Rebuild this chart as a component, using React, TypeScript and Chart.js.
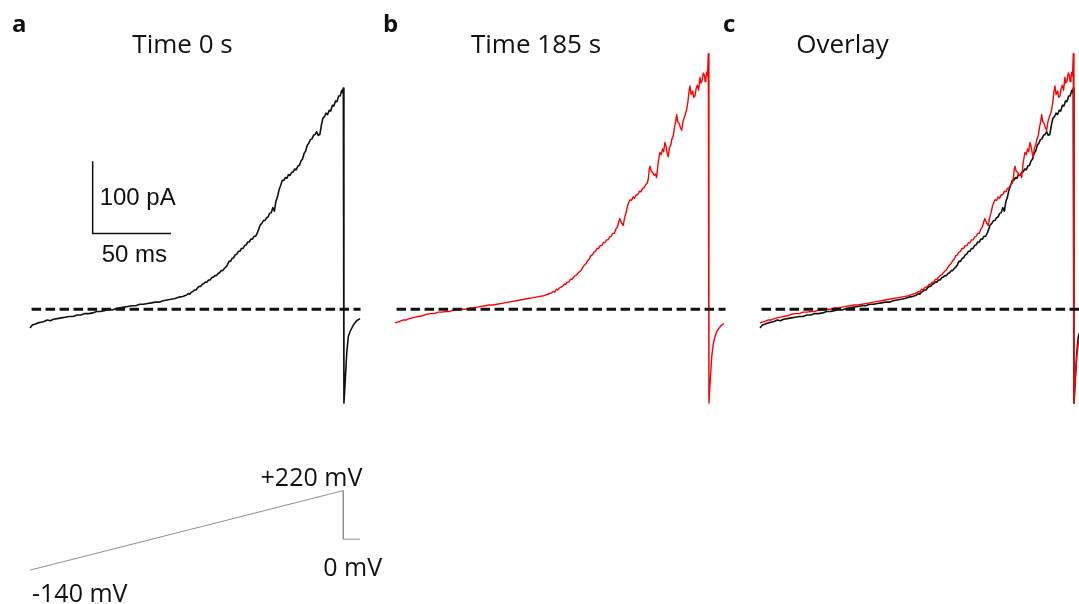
import React, { useEffect, useRef } from 'react';
import { Chart, registerables } from 'chart.js';

Chart.register(...registerables);

// ---------- data: [time in ms, current in pA] ----------
const PANEL_LETTERS = ['a', 'b', 'c'];
const PANEL_TITLES = ['Time 0 s', 'Time 185 s', 'Overlay'];

const TRACE_A_0S: [number, number][] = [
  [0, -26], [1.5, -22], [3, -21], [5, -19], [7, -18], [9, -17], [11, -15], [13, -16], [15, -14], [17.5, -13],
  [20, -12], [22.5, -11], [25, -10], [27.5, -10], [30, -8], [32.5, -8], [35, -6], [37.5, -6], [40, -5], [42.5, -3],
  [45, -3], [47.5, -2], [50, 0], [52.5, -1], [55, 1], [57.5, 2], [60, 3], [62.5, 4], [65, 5], [67.5, 5],
  [70, 7], [72.5, 7], [75, 8], [77.5, 9], [80, 10], [82.5, 10], [85, 12], [87.5, 13], [90, 14], [92.5, 15],
  [95, 17], [97.5, 18],
  [100, 20], [101, 22], [102, 21], [103, 24], [104, 25], [105, 27], [106, 27], [107, 30], [108, 32], [109, 32],
  [110, 35], [111, 36], [112, 38], [113, 38], [114, 41], [115, 41], [116, 44], [117, 45], [118, 47], [119, 47],
  [120, 50], [121, 51], [122, 54], [123, 54], [124, 57], [125, 59], [126, 62], [127, 67], [128, 67], [129, 71],
  [130, 72], [131, 76], [132, 77], [133, 81], [134, 81], [135, 85], [136, 85], [137, 89], [138, 90], [139, 94],
  [140, 94], [141, 98], [142, 98], [143, 102], [144, 102], [145, 106], [146, 112], [147, 118], [148, 120], [149, 124],
  [150, 124], [151, 128], [152, 129], [153, 134], [154, 135], [155, 142], [156, 137], [157, 151], [158, 157], [159, 167],
  [160, 173], [161, 180], [162, 180], [163, 184], [164, 183], [165, 188], [166, 187], [167, 191], [168, 192], [169, 196],
  [170, 195], [171, 200], [172, 201], [173, 207], [174, 210], [175, 218], [176, 221], [177, 229], [178, 232], [179, 237],
  [180, 238], [181, 243], [182, 244], [183, 248], [184, 243], [185, 244], [186, 257], [187, 267], [188, 269], [189, 274],
  [190, 272], [191, 278], [192, 277], [193, 285], [194, 284], [195, 291], [196, 290], [197, 298], [198, 298], [199, 306],
  [199.5, 303], [200, 309],
  [200.4, -131], [201.1, -105], [202.2, -61], [203.2, -38], [204.3, -31], [206.4, -22], [208.5, -16], [210.7, -13],
];

const TRACE_B_185S: [number, number][] = [
  [0, -19], [1.5, -18], [3, -17], [5, -15], [7, -15], [9, -13], [11, -12], [13, -11], [15, -10], [17.5, -9],
  [20, -7], [22.5, -6], [25, -6], [27.5, -4], [30, -4], [32.5, -3], [35, -3], [37.5, -1], [40, -1], [42.5, 0],
  [45, 0], [47.5, 2], [50, 2], [52.5, 3], [55, 4], [57.5, 5], [60, 6], [62.5, 6], [65, 7], [67.5, 8],
  [70, 9], [72.5, 10], [75, 11], [77.5, 12], [80, 13], [82.5, 14], [85, 15], [87.5, 16], [90, 17], [92.5, 18],
  [95, 19], [97.5, 21],
  [100, 23], [101, 25], [102, 24], [103, 28], [104, 27], [105, 30], [106, 31], [107, 32], [108, 35], [109, 35],
  [110, 38], [111, 38], [112, 42], [113, 42], [114, 45], [115, 47], [116, 48], [117, 51], [118, 53], [119, 55],
  [120, 59], [121, 62], [122, 64], [123, 68], [124, 70], [125, 75], [126, 76], [127, 80], [128, 81], [129, 85],
  [130, 85], [131, 89], [132, 89], [133, 93], [134, 93], [135, 97], [136, 97], [137, 101], [138, 102], [139, 106],
  [140, 106], [141, 112], [142, 115], [143, 124], [143.5, 127], [144.5, 121], [145.7, 117], [146.5, 127], [147.5, 135], [148.5, 145],
  [150, 153], [151, 152], [152, 157], [153, 155], [154, 160], [155, 160], [156, 165], [157, 164], [158, 169], [159, 170],
  [160, 174], [161, 176], [161.7, 182], [162.3, 196], [162.8, 200], [163.5, 193], [164.5, 191], [165.5, 187], [166.3, 189], [167, 184],
  [168, 205], [169.1, 219], [170, 216], [170.8, 224], [171.5, 220], [172.3, 233], [173, 228], [173.8, 218], [174.4, 213], [175.2, 226],
  [176, 229], [176.8, 238], [177.6, 242], [178.5, 255], [179.2, 262], [179.8, 272], [180.5, 262], [181.5, 259], [182.2, 254], [183, 250],
  [183.8, 262], [184.5, 267], [185.3, 272], [186.2, 279], [187, 290], [187.6, 303], [188.3, 312], [189, 300], [190, 305], [190.7, 296],
  [191.5, 298], [192.2, 308], [193, 313], [193.8, 306], [194.7, 324], [195.3, 316], [196, 319], [196.8, 330], [197.5, 327], [198, 318],
  [198.5, 323], [199, 331], [199.5, 326], [200, 357],
  [200.4, -131], [201.2, -100], [202.2, -66], [203.2, -48], [204.3, -38], [205.5, -31], [207, -26], [208.5, -22], [210, -20],
];

const BASELINE_MS = [1, 211];
const BASELINE_PA = [0, 0];

const SCALE_BAR_MS = [40, 40, 90];
const SCALE_BAR_PA = [206, 106, 106];
const SCALE_BAR_LABELS = ['100 pA', '50 ms'];

const RAMP_MS = [0, 200, 200, 210.6];
const RAMP_MV = [-140, 220, 0, 0];
const RAMP_LABELS = ['+220 mV', '0 mV', '-140 mV'];

// ---------- layout constants ----------
const W = 1079;
const H = 604;
const PX_PER_MS = 313.3 / 200;
const PANEL_ORIGINS = [30, 395, 760];
const PX_PER_PA = 0.716;
const ZERO_PA_Y = 309.3;
const PX_PER_MV = 0.2209;
const ZERO_MV_Y = 539.2;

const pts = (xs: number[], ys: number[]) => xs.map((x, i) => ({ x, y: ys[i] }));
const pairPts = (rows: [number, number][]) => rows.map(([x, y]) => ({ x, y }));

const BLACK = '#111111';
const RED = 'rgb(255,0,0)';
const GREY = '#8f8f8f';

function line(data: any, color: string, width: number, xAxisID: string, yAxisID: string, order: number, dash?: number[]) {
  return {
    data,
    borderColor: color,
    backgroundColor: color,
    borderWidth: width,
    borderDash: dash || [],
    borderJoinStyle: 'round',
    borderCapStyle: 'butt',
    pointRadius: 0,
    tension: 0,
    fill: false,
    xAxisID,
    yAxisID,
    order,
  };
}

const textPlugin = {
  id: 'figText',
  afterDraw(chart: any) {
    const ctx = chart.ctx;
    const s = chart.scales;
    const xs = [s.xa, s.xb, s.xc];
    const yI = s.yI;
    const yV = s.yV;
    ctx.save();
    ctx.fillStyle = '#111';
    ctx.textBaseline = 'alphabetic';
    const put = (t: string, x: number, y: number, font: string, align: string) => {
      ctx.font = font;
      ctx.textAlign = align;
      ctx.fillText(t, x, y);
    };
    const letterDx = [-18, -12, -37];
    const titleDx = [152.5, 141, 82.5];
    for (let i = 0; i < 3; i++) {
      const o = xs[i].getPixelForValue(0);
      put(PANEL_LETTERS[i], o + letterDx[i], 32, 'bold 24px "Open Sans"', 'left');
      put(PANEL_TITLES[i], o + titleDx[i], 53, '26px "Open Sans"', 'center');
    }
    // scale bar labels
    const bx = s.xa.getPixelForValue(SCALE_BAR_MS[0]);
    const bTop = yI.getPixelForValue(SCALE_BAR_PA[0]);
    const bBot = yI.getPixelForValue(SCALE_BAR_PA[1]);
    put(SCALE_BAR_LABELS[0], bx + 7, bTop + 43, '24px "Liberation Sans"', 'left');
    put(SCALE_BAR_LABELS[1], bx + 9, bBot + 29, '24px "Liberation Sans"', 'left');
    // voltage protocol labels
    const pEnd = s.xa.getPixelForValue(RAMP_MS[1]);
    const pStart = s.xa.getPixelForValue(RAMP_MS[0]);
    put(RAMP_LABELS[0], pEnd + 19, yV.getPixelForValue(RAMP_MV[1]) - 5, '25px "Open Sans"', 'right');
    put(RAMP_LABELS[1], pEnd - 20, yV.getPixelForValue(RAMP_MV[2]) + 37, '25px "Open Sans"', 'left');
    put(RAMP_LABELS[2], pStart + 2, yV.getPixelForValue(RAMP_MV[0]) + 32, '25px "Open Sans"', 'left');
    ctx.restore();
  },
};

export default function App() {
  const ref = useRef<HTMLCanvasElement | null>(null);
  useEffect(() => {
    if (!ref.current) return;
    const xScale = (o: number) => ({
      type: 'linear',
      display: false,
      min: -o / PX_PER_MS,
      max: (W - o) / PX_PER_MS,
    });
    const A = pairPts(TRACE_A_0S);
    const B = pairPts(TRACE_B_185S);
    const base = pts(BASELINE_MS, BASELINE_PA);
    const dash = [9.5, 4.5];
    const chart = new Chart(ref.current, {
      type: 'line',
      data: {
        datasets: [
          // panel a
          line(base, BLACK, 3, 'xa', 'yI', 0, dash),
          line(A, BLACK, 1.6, 'xa', 'yI', 2),
          line(pts(SCALE_BAR_MS, SCALE_BAR_PA), BLACK, 1.5, 'xa', 'yI', 3),
          line(pts(RAMP_MS, RAMP_MV), GREY, 1, 'xa', 'yV', 3),
          // panel b
          line(base, BLACK, 3, 'xb', 'yI', 0, dash),
          line(B, RED, 1.4, 'xb', 'yI', 1),
          // panel c (overlay)
          line(base, BLACK, 3, 'xc', 'yI', 0, dash),
          line(B, RED, 1.4, 'xc', 'yI', 1),
          line(A, BLACK, 1.6, 'xc', 'yI', 2),
        ] as any,
      },
      options: {
        responsive: false,
        animation: false,
        events: [],
        layout: { padding: 0 },
        plugins: {
          legend: { display: false },
          tooltip: { enabled: false },
          title: { display: false },
        },
        scales: {
          xa: xScale(PANEL_ORIGINS[0]),
          xb: xScale(PANEL_ORIGINS[1]),
          xc: xScale(PANEL_ORIGINS[2]),
          yI: {
            type: 'linear',
            display: false,
            min: -(H - ZERO_PA_Y) / PX_PER_PA,
            max: ZERO_PA_Y / PX_PER_PA,
          },
          yV: {
            type: 'linear',
            display: false,
            min: -(H - ZERO_MV_Y) / PX_PER_MV,
            max: ZERO_MV_Y / PX_PER_MV,
          },
        } as any,
      },
      plugins: [textPlugin as any],
    });
    return () => chart.destroy();
  }, []);

  return (
    <div
      style={{
        position: 'absolute',
        left: 0,
        top: 0,
        width: W,
        height: H,
        overflow: 'hidden',
        background: '#fff',
      }}
    >
      <canvas ref={ref} width={W} height={H} style={{ width: W, height: H, display: 'block' }} />
    </div>
  );
}
